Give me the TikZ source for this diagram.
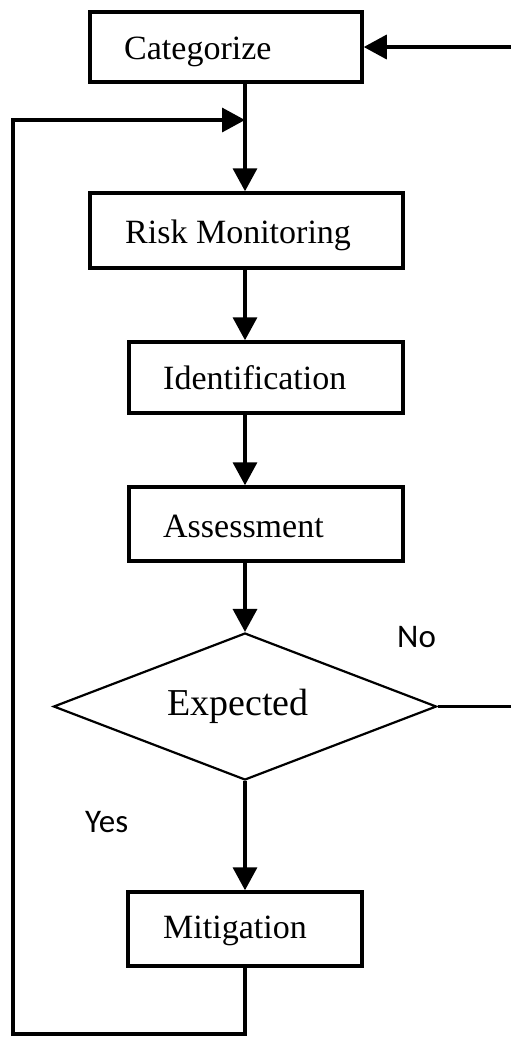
\documentclass[tikz,border=0pt]{standalone}
\usepackage{fontspec}
\setmainfont{Liberation Serif}
\newfontfamily\labelfont{Carlito}
\usetikzlibrary{shapes.geometric,arrows.meta}
\begin{document}
\begin{tikzpicture}[x=1pt,y=-1pt,
  box/.style={draw, line width=3.5pt, inner sep=0pt},
  boxtext/.style={font=\fontsize{34}{40}\selectfont, inner sep=0pt, anchor=base west},
  flow/.style={line width=3.5pt, -{Triangle[width=24pt,length=23pt]}},
  yn/.style={font=\labelfont\fontsize{33}{40}\selectfont, inner sep=0pt, anchor=base west}]
\useasboundingbox (0,0) rectangle (511,1037);
\clip (0,0) rectangle (511,1037);

% process boxes
\node[box, minimum width=272pt, minimum height=70pt] (cat) at (226,47) {};
\node[box, minimum width=313pt, minimum height=75pt] (rm)  at (246.5,230.5) {};
\node[box, minimum width=274pt, minimum height=71pt] (idf) at (266,377.5) {};
\node[box, minimum width=274pt, minimum height=74pt] (ass) at (266,524) {};
\node[box, minimum width=234pt, minimum height=74pt] (mit) at (245,929) {};

% decision
\node[draw, diamond, line width=2.2pt, minimum width=383pt, minimum height=147pt, inner sep=0pt] (exp) at (245,706.5) {};

% texts
\node[boxtext] (tcat) at (124,59)  {Categorize};
\node[boxtext] (trm)  at (125,243) {Risk Monitoring};
\node[boxtext] (tidf) at (163,389) {Identification};
\node[boxtext] (tass) at (163,537) {Assessment};
\node[boxtext] (tmit) at (163,938) {Mitigation};
\node[boxtext, font=\fontsize{38}{44}\selectfont] (texp) at (167,715) {Expected};
\node[yn] (no)  at (397,647) {No};
\node[yn] (yes) at (85,832)  {Yes};

% main flow
\coordinate (ax) at (245,0);
\draw[flow] (cat.south -| ax) -- (rm.north -| ax);
\draw[flow] (rm.south -| ax) -- (idf.north -| ax);
\draw[flow] (idf.south -| ax) -- (ass.north -| ax);
\draw[flow] (ass.south -| ax) -- (exp.north);
\draw[flow] (exp.south) -- (mit.north -| ax);

% feedback after mitigation
\coordinate (join) at (245,120);
\coordinate (corner) at (13,1034);
\draw[flow] (mit.south -| ax) |- (corner) |- (join);

% "No" branch back to the top
\coordinate (rx) at (520,48);
\draw[flow] (exp.east) -| (rx) |- (cat.east);
\end{tikzpicture}
\end{document}
